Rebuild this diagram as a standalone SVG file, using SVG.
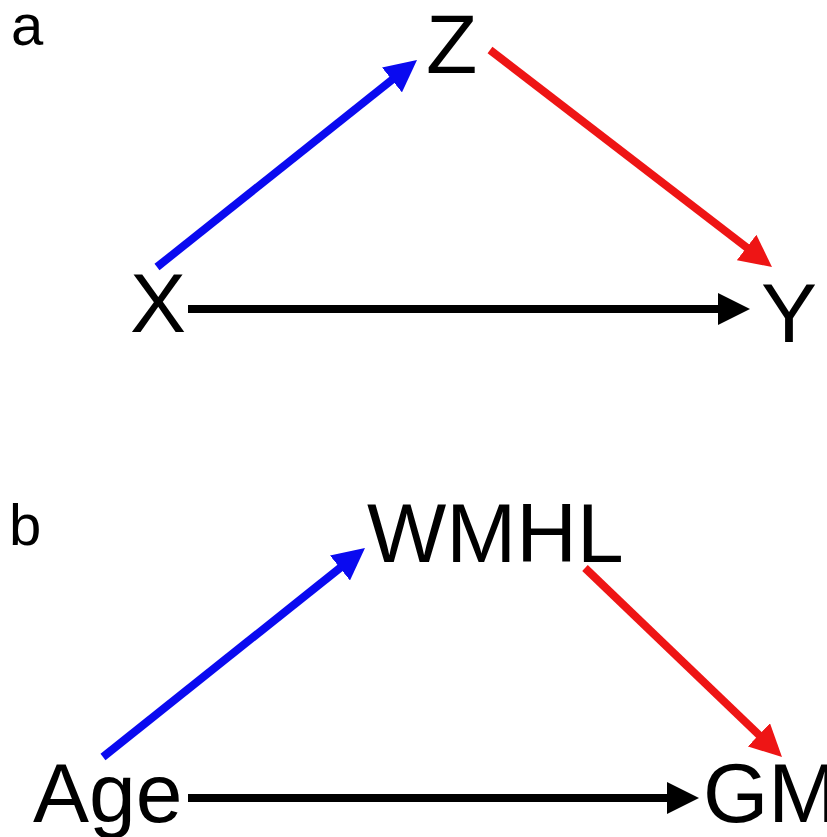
<svg xmlns="http://www.w3.org/2000/svg" width="827" height="837" viewBox="0 0 827 837">
<style>
  .lbl { font-family: "Liberation Sans", Arial, sans-serif; fill: #000; }
  .node { font-size: 84px; }
  .panel { font-size: 58px; }
  .e { stroke-width: 8; fill: none; stroke-linecap: butt; }
  .blue { stroke: #0a0af0; }
  .red { stroke: #ee1515; }
  .black { stroke: #000; }
</style>
<defs>
  <marker id="hb" viewBox="0 0 32 32" refX="4" refY="16" markerWidth="32" markerHeight="32" markerUnits="userSpaceOnUse" orient="auto"><path d="M0,0 L32,16 L0,32 z" fill="#0a0af0"/></marker>
  <marker id="hr" viewBox="0 0 32 32" refX="4" refY="16" markerWidth="32" markerHeight="32" markerUnits="userSpaceOnUse" orient="auto"><path d="M0,0 L32,16 L0,32 z" fill="#ee1515"/></marker>
  <marker id="hk" viewBox="0 0 32 32" refX="4" refY="16" markerWidth="32" markerHeight="32" markerUnits="userSpaceOnUse" orient="auto"><path d="M0,0 L32,16 L0,32 z" fill="#000"/></marker>
</defs>
<rect width="827" height="837" fill="#fff"/>
<text class="lbl panel" x="11" y="45">a</text>
<text class="lbl panel" x="9" y="545">b</text>
<g id="connectors">
  <line class="e blue" x1="157" y1="267" x2="395.1" y2="77.4" marker-end="url(#hb)"/>
  <line class="e red" x1="490" y1="50" x2="749.8" y2="249.9" marker-end="url(#hr)"/>
  <line class="e black" x1="188" y1="309" x2="722" y2="309" marker-end="url(#hk)"/>
  <line class="e blue" x1="103" y1="757" x2="343.1" y2="565.5" marker-end="url(#hb)"/>
  <line class="e red" x1="585" y1="568" x2="761.8" y2="737.6" marker-end="url(#hr)"/>
  <line class="e black" x1="188" y1="798" x2="671" y2="798" marker-end="url(#hk)"/>
</g>
<g id="node-X"><text class="lbl node" x="130" y="332">X</text></g>
<g id="node-Z"><text class="lbl node" x="426" y="73">Z</text></g>
<g id="node-Y"><text class="lbl node" x="761" y="342">Y</text></g>
<g id="node-WMHL"><text class="lbl node" x="367" y="562">WMHL</text></g>
<g id="node-Age"><text class="lbl node" x="33" y="822">Age</text></g>
<g id="node-GM"><text class="lbl node" x="703" y="822">GM</text></g>
</svg>
